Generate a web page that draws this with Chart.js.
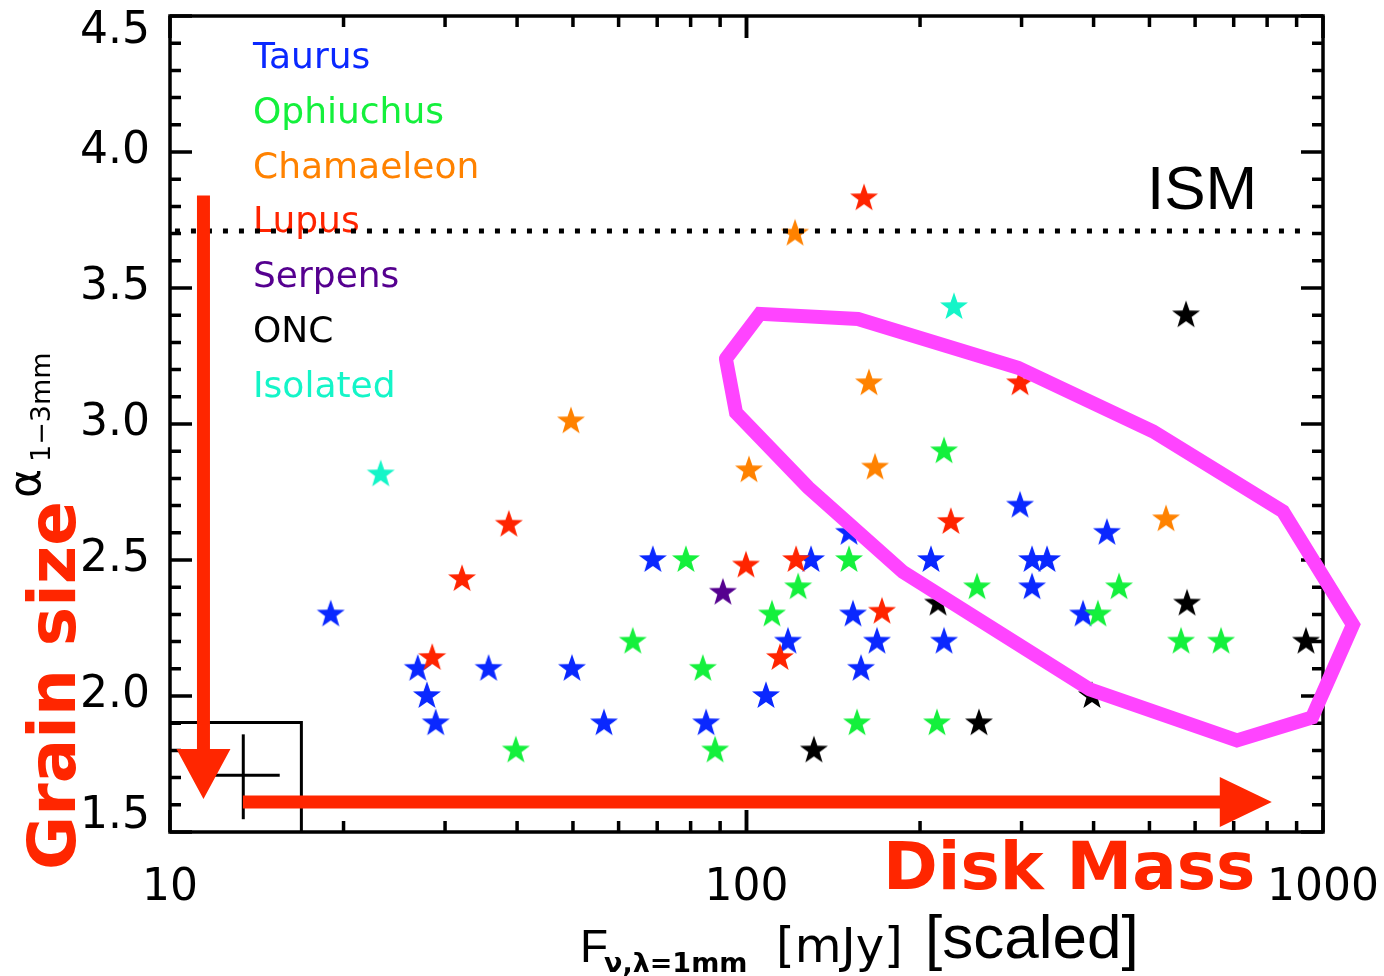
<!DOCTYPE html>
<html>
<head>
<meta charset="utf-8">
<script src="https://cdn.jsdelivr.net/npm/chart.js@4/dist/chart.umd.min.js"></script>
<style>
  html, body { margin: 0; padding: 0; background: #fff; }
</style>
</head>
<body>
<canvas id="c" width="1384" height="976"></canvas>
<script>
// Regions (legend order) and their colours
const groups = ['Taurus', 'Ophiuchus', 'Chamaeleon', 'Lupus', 'Serpens', 'ONC', 'Isolated'];
const groupColors = ['#0a28ff', '#14f03c', '#ff8200', '#ff2400', '#55008f', '#000000', '#14f5c8'];

// F_1mm [mJy] and alpha_1-3mm
const taurusX = [19.0, 26.9, 27.9, 28.9, 35.7, 49.8, 56.6, 68.8, 85.1, 108.1, 118.0, 129.4, 150.6, 153.0, 158.0, 168.4, 208.9, 220.1, 298.2, 312.8, 312.8, 332.1, 383.5, 421.9];
const taurusY = [2.30, 2.10, 2.00, 1.90, 2.10, 2.10, 1.90, 2.50, 1.90, 2.00, 2.20, 2.50, 2.60, 2.30, 2.10, 2.20, 2.50, 2.20, 2.70, 2.50, 2.40, 2.50, 2.30, 2.60];
const ophX = [39.8, 63.5, 78.5, 84.0, 88.2, 110.7, 122.9, 150.6, 155.5, 214.0, 220.1, 251.1, 407.0, 442.8, 567.2, 665.5];
const ophY = [1.80, 2.20, 2.50, 2.10, 1.80, 2.30, 2.40, 2.50, 1.90, 1.90, 2.90, 2.40, 2.30, 2.40, 2.20, 2.20];
const chaX = [49.6, 101.0, 121.4, 163.1, 167.1, 534.2];
const chaY = [3.01, 2.83, 3.70, 3.15, 2.84, 2.65];
const lupX = [28.5, 32.1, 38.7, 99.8, 114.3, 121.9, 159.9, 171.8, 226.2, 298.2];
const lupY = [2.14, 2.43, 2.63, 2.48, 2.14, 2.50, 3.83, 2.31, 2.64, 3.15];
const serX = [91.0];
const serY = [2.38];
const oncX = [130.9, 214.9, 253.1, 397.4, 578.7, 581.0, 934.3];
const oncY = [1.80, 2.34, 1.90, 2.00, 3.40, 2.34, 2.20];
const isoX = [23.2, 229.0];
const isoY = [2.815, 3.43];
const seriesX = [taurusX, ophX, chaX, lupX, serX, oncX, isoX];
const seriesY = [taurusY, ophY, chaY, lupY, serY, oncY, isoY];

// magenta contour
const polyX = [92.1, 105.5, 156.1, 295.8, 507.2, 852, 1127, 957, 709, 394, 186.8, 127.9, 95.9, 92.1];
const polyY = [3.240, 3.405, 3.386, 3.207, 2.973, 2.679, 2.262, 1.921, 1.837, 2.024, 2.456, 2.767, 3.042, 3.240];

// ISM level
const ismX = [10.2, 923];
const ismY = [3.71, 3.71];

// typical error box and cross
const boxX = [10, 16.9, 16.9];
const boxY = [1.903, 1.903, 1.5];
const crossHX = [11.9, 15.5];
const crossHY = [1.709, 1.709];
const crossVX = [13.4, 13.4];
const crossVY = [1.547, 1.859];

// red arrows (data coordinates)
const arrowDown = { x: 11.43, from: 3.84, to: 1.621 };
const arrowRight = { y: 1.61, from: 13.38, to: 815 };

// axes
const xTickValues = [10, 100, 1000];
const yTickValues = [1.5, 2.0, 2.5, 3.0, 3.5, 4.0, 4.5];

const pts = (xs, ys) => xs.map((x, i) => ({ x, y: ys[i] }));

function starImage(color, r) {
  const size = 32;
  const c = document.createElement('canvas');
  c.width = c.height = size;
  const g = c.getContext('2d');
  g.translate(size / 2, size / 2);
  g.beginPath();
  for (let i = 0; i < 10; i++) {
    const rad = i % 2 ? r * 0.4 : r;
    const a = -Math.PI / 2 + i * Math.PI / 5;
    g.lineTo(rad * Math.cos(a), rad * Math.sin(a));
  }
  g.closePath();
  g.fillStyle = color;
  g.fill();
  return c;
}

function lineSet(xs, ys, color, width, order, extra) {
  return Object.assign({
    data: pts(xs, ys), showLine: true, borderColor: color, borderWidth: width,
    pointRadius: 0, fill: false, order
  }, extra || {});
}

const datasets = [
  lineSet(polyX, polyY, '#ff44ff', 14, 0, { clip: false, borderJoinStyle: 'miter', borderCapStyle: 'round' }),
  lineSet(ismX, ismY, '#000', 5, 1, { borderDash: [5, 11] }),
  lineSet(boxX, boxY, '#000', 3, 2),
  lineSet(crossHX, crossHY, '#000', 3, 2),
  lineSet(crossVX, crossVY, '#000', 3, 2)
];
groups.forEach((name, i) => {
  datasets.push({
    label: name,
    data: pts(seriesX[i], seriesY[i]),
    pointStyle: starImage(groupColors[i], 14.7),
    pointRadius: 15,
    order: 10 - i
  });
});

const RED = '#ff2600';

function drawArrow(ctx, x0, y0, x1, y1, w, headW, headL) {
  const dx = x1 - x0, dy = y1 - y0, len = Math.hypot(dx, dy);
  const ux = dx / len, uy = dy / len, nx = -uy, ny = ux;
  const bx = x1 - ux * headL, by = y1 - uy * headL;
  ctx.beginPath();
  ctx.moveTo(x0 + nx * w / 2, y0 + ny * w / 2);
  ctx.lineTo(bx + nx * w / 2, by + ny * w / 2);
  ctx.lineTo(bx + nx * headW, by + ny * headW);
  ctx.lineTo(x1, y1);
  ctx.lineTo(bx - nx * headW, by - ny * headW);
  ctx.lineTo(bx - nx * w / 2, by - ny * w / 2);
  ctx.lineTo(x0 - nx * w / 2, y0 - ny * w / 2);
  ctx.closePath();
  ctx.fill();
}

const decor = {
  id: 'decor',
  beforeDatasetsDraw(chart) {
    const { ctx, chartArea: a, scales: { x, y } } = chart;
    ctx.save();
    // legend as coloured text
    ctx.font = '36px "DejaVu Sans"';
    ctx.textBaseline = 'alphabetic';
    groups.forEach((name, i) => {
      ctx.fillStyle = groupColors[i];
      ctx.fillText(name, 253, 68 + i * 54.8);
    });
    // frame
    ctx.strokeStyle = '#000';
    ctx.lineWidth = 3.5;
    ctx.strokeRect(a.left, a.top, a.right - a.left, a.bottom - a.top);
    // y ticks, both sides, inward
    for (let k = 15; k <= 45; k++) {
      const v = k / 10, py = y.getPixelForValue(v);
      const len = k % 5 === 0 ? 22 : 11;
      ctx.beginPath();
      ctx.moveTo(a.left, py); ctx.lineTo(a.left + len, py);
      ctx.moveTo(a.right, py); ctx.lineTo(a.right - len, py);
      ctx.stroke();
    }
    // x ticks, top and bottom
    [10, 100].forEach(dec => {
      for (let m = 1; m <= 10; m++) {
        const px = x.getPixelForValue(dec * m);
        const len = m === 1 || m === 10 ? 22 : 11;
        ctx.beginPath();
        ctx.moveTo(px, a.bottom); ctx.lineTo(px, a.bottom - len);
        ctx.moveTo(px, a.top); ctx.lineTo(px, a.top + len);
        ctx.stroke();
      }
    });
    ctx.restore();
  },
  afterDatasetsDraw(chart) {
    const { ctx, scales: { x, y } } = chart;
    ctx.save();
    ctx.fillStyle = RED;
    const ax = x.getPixelForValue(arrowDown.x);
    drawArrow(ctx, ax, y.getPixelForValue(arrowDown.from), ax, y.getPixelForValue(arrowDown.to), 13, 27, 50);
    const ay = y.getPixelForValue(arrowRight.y);
    drawArrow(ctx, x.getPixelForValue(arrowRight.from), ay, x.getPixelForValue(arrowRight.to), ay, 13, 25, 52);
    ctx.restore();
  },
  afterDraw(chart) {
    const { ctx } = chart;
    ctx.save();
    ctx.textBaseline = 'alphabetic';
    ctx.fillStyle = '#000';
    ctx.font = '62px "Liberation Sans"';
    ctx.fillText('ISM', 1147, 209);

    ctx.fillStyle = RED;
    ctx.font = 'bold 66px "DejaVu Sans"';
    ctx.fillText('Disk Mass', 883, 889);

    // x title
    ctx.fillStyle = '#000';
    ctx.font = '46px "Liberation Sans"';
    ctx.fillText('F', 580, 962);
    ctx.font = 'bold 27px "DejaVu Sans"';
    ctx.fillText('ν,λ=1mm', 604, 972);
    ctx.font = '48px "DejaVu Sans"';
    ctx.fillText('[mJy]', 776, 962);
    ctx.font = '62px "Liberation Sans"';
    ctx.fillText('[scaled]', 925, 958);

    // y titles, rotated
    ctx.save();
    ctx.translate(75, 870);
    ctx.rotate(-Math.PI / 2);
    ctx.fillStyle = RED;
    ctx.font = 'bold 66px "DejaVu Sans"';
    ctx.fillText('Grain size', 0, 0);
    ctx.restore();

    ctx.save();
    ctx.translate(40, 498);
    ctx.rotate(-Math.PI / 2);
    ctx.font = '44px "DejaVu Sans"';
    ctx.fillText('α', 0, 0);
    ctx.restore();

    ctx.save();
    ctx.translate(50, 462);
    ctx.rotate(-Math.PI / 2);
    ctx.font = '27px "DejaVu Sans"';
    ctx.fillText('1−3mm', 0, 0);
    ctx.restore();

    ctx.restore();
  }
};

new Chart(document.getElementById('c'), {
  type: 'scatter',
  data: { datasets },
  options: {
    responsive: false,
    animation: false,
    layout: { padding: { top: 14, right: 61, left: 0, bottom: 0 } },
    plugins: { legend: { display: false }, tooltip: { enabled: false } },
    scales: {
      x: {
        type: 'logarithmic', min: 10, max: 1000,
        afterBuildTicks: s => { s.ticks = xTickValues.map(v => ({ value: v })); },
        afterFit: s => { s.height = 144; s.paddingLeft = 0; s.paddingRight = 0; },
        grid: { display: false, drawTicks: false },
        border: { display: false },
        ticks: {
          color: '#000', font: { family: 'DejaVu Sans', size: 44 }, padding: 30,
          maxRotation: 0, autoSkip: false, callback: v => String(v)
        }
      },
      y: {
        min: 1.5, max: 4.5,
        afterBuildTicks: s => { s.ticks = yTickValues.map(v => ({ value: v })); },
        afterFit: s => { s.width = 170; s.paddingTop = 0; s.paddingBottom = 0; },
        grid: { display: false, drawTicks: false },
        border: { display: false },
        ticks: {
          color: '#000', font: { family: 'DejaVu Sans', size: 44, lineHeight: 0.72 }, padding: 20,
          callback: v => v === 4.5 ? ['', v.toFixed(1)] : v === 1.5 ? [v.toFixed(1), ''] : v.toFixed(1)
        }
      }
    }
  },
  plugins: [decor]
});
</script>
</body>
</html>
